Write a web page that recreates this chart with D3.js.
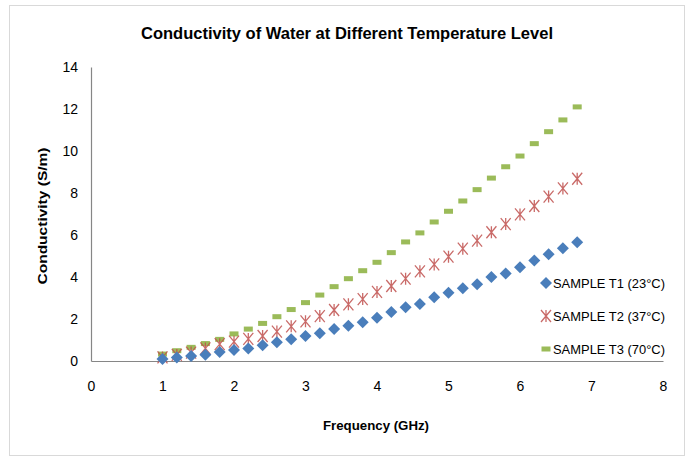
<!DOCTYPE html>
<html>
<head>
<meta charset="utf-8">
<script src="https://cdn.jsdelivr.net/npm/d3@7"></script>
<style>
  body { margin: 0; background: #fff; }
  text { font-family: "Liberation Sans", Arial, sans-serif; fill: #000; }
</style>
</head>
<body>
<svg id="chart" width="686" height="457"></svg>
<script>
// frequency (GHz)
const freq = [1.0, 1.2, 1.4, 1.6, 1.8, 2.0, 2.2, 2.4, 2.6, 2.8,
  3.0, 3.2, 3.4, 3.6, 3.8, 4.0, 4.2, 4.4, 4.6, 4.8,
  5.0, 5.2, 5.4, 5.6, 5.8, 6.0, 6.2, 6.4, 6.6, 6.8];
// conductivity (S/m)
const t1 = [0.10, 0.17, 0.24, 0.30, 0.43, 0.52, 0.60, 0.75, 0.89, 1.03,
  1.19, 1.32, 1.52, 1.68, 1.84, 2.06, 2.33, 2.56, 2.71, 3.03,
  3.25, 3.46, 3.65, 4.00, 4.17, 4.46, 4.78, 5.08, 5.37, 5.65];
const t2 = [0.17, 0.29, 0.40, 0.60, 0.80, 0.92, 1.05, 1.19, 1.40, 1.65,
  1.89, 2.14, 2.43, 2.70, 2.95, 3.29, 3.57, 3.92, 4.27, 4.60,
  4.97, 5.35, 5.73, 6.13, 6.52, 6.98, 7.38, 7.83, 8.22, 8.68];
const t3 = [0.33, 0.49, 0.65, 0.83, 1.03, 1.29, 1.52, 1.79, 2.11, 2.45,
  2.78, 3.14, 3.54, 3.92, 4.30, 4.70, 5.16, 5.67, 6.10, 6.62,
  7.13, 7.62, 8.16, 8.71, 9.25, 9.76, 10.35, 10.92, 11.48, 12.10];
const seriesNames = ["SAMPLE T1 (23°C)", "SAMPLE T2 (37°C)", "SAMPLE T3 (70°C)"];
const xTicks = [0, 1, 2, 3, 4, 5, 6, 7, 8];
const yTicks = [0, 2, 4, 6, 8, 10, 12, 14];

const svg = d3.select("#chart");
const plotLeft = 91, plotRight = 663, plotTop = 67, plotBottom = 361;

// outer frame
svg.append("rect")
  .attr("x", 9.5).attr("y", 5.5)
  .attr("width", 675).attr("height", 450)
  .attr("fill", "none").attr("stroke", "#d9d9d9");

const x = d3.scaleLinear().domain([0, 8]).range([plotLeft, plotRight]);
const y = d3.scaleLinear().domain([0, 14]).range([plotBottom, plotTop]);

// axes (no tick marks, only labels)
const xAxis = svg.append("g")
  .attr("transform", "translate(0," + plotBottom + ")")
  .call(d3.axisBottom(x).tickValues(xTicks).tickSize(0).tickPadding(20));
const yAxis = svg.append("g")
  .attr("transform", "translate(" + plotLeft + ",0)")
  .call(d3.axisLeft(y).tickValues(yTicks).tickSize(0).tickPadding(13));
[xAxis, yAxis].forEach(g => {
  g.select(".domain").attr("stroke", "#868686").attr("stroke-width", 1.2);
  g.selectAll("text")
    .style("font-family", "\"Liberation Sans Narrow\", \"Liberation Sans\", sans-serif")
    .style("font-size", "14px").attr("fill", "#000");
});

// title & axis labels
svg.append("text")
  .attr("x", 347).attr("y", 39)
  .attr("text-anchor", "middle")
  .attr("font-weight", "bold").attr("font-size", "16px")
  .attr("textLength", 412).attr("lengthAdjust", "spacingAndGlyphs")
  .text("Conductivity of Water at Different Temperature Level");

svg.append("text")
  .attr("x", 376).attr("y", 430)
  .attr("text-anchor", "middle")
  .attr("font-weight", "bold").attr("font-size", "13px")
  .attr("textLength", 106).attr("lengthAdjust", "spacingAndGlyphs")
  .text("Frequency (GHz)");

svg.append("text")
  .attr("transform", "translate(47,216) rotate(-90)")
  .attr("text-anchor", "middle")
  .attr("font-weight", "bold").attr("font-size", "13px")
  .attr("textLength", 137).attr("lengthAdjust", "spacingAndGlyphs")
  .text("Conductivity (S/m)");

// marker drawers
const blue = "#4a7ebb", red = "#c0504d", green = "#9bbb59";
function diamond(g, cx, cy) {
  g.append("path")
    .attr("d", `M${cx},${cy - 6}L${cx + 6},${cy}L${cx},${cy + 6}L${cx - 6},${cy}Z`)
    .attr("fill", blue);
}
function star(g, cx, cy) {
  g.append("path")
    .attr("d", `M${cx - 5},${cy - 6}L${cx + 5},${cy + 6}M${cx + 5},${cy - 6}L${cx - 5},${cy + 6}M${cx},${cy - 6}L${cx},${cy + 6}`)
    .attr("stroke", red).attr("stroke-width", 1.3).attr("fill", "none").attr("opacity", 0.85);
}
function dash(g, cx, cy) {
  g.append("rect")
    .attr("x", cx - 4.5).attr("y", cy - 2.5)
    .attr("width", 9).attr("height", 5)
    .attr("fill", green);
}

const series = [
  { vals: t1, mark: diamond },
  { vals: t2, mark: star },
  { vals: t3, mark: dash }
];

// draw T3 first, then T2, then T1 on top
[2, 1, 0].forEach(i => {
  const g = svg.append("g");
  series[i].vals.forEach((v, j) => series[i].mark(g, x(freq[j]), y(v)));
});

// legend
const legendY = [283, 316, 349];
series.forEach((s, i) => {
  const g = svg.append("g");
  s.mark(g, 546, legendY[i]);
  g.append("text")
    .attr("x", 553).attr("y", legendY[i] + 5)
    .attr("font-size", "13px")
    .attr("textLength", 112).attr("lengthAdjust", "spacingAndGlyphs")
    .text(seriesNames[i]);
});
</script>
</body>
</html>
